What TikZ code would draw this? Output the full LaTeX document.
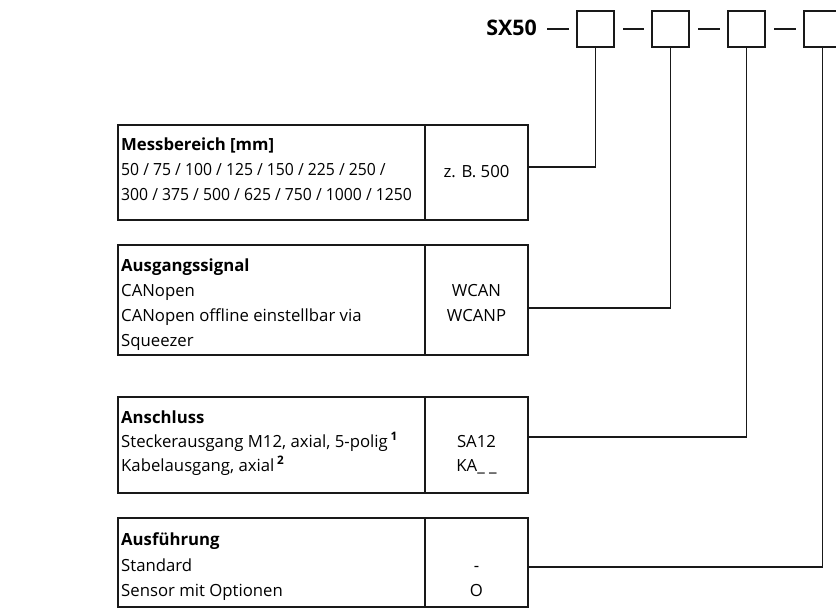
\documentclass[tikz,border=0pt]{standalone}
\usepackage{fontspec}
\setmainfont{Open Sans}
\newcommand{\digrow}[1]{\scalebox{0.94}[1]{#1}}
\begin{document}
\begin{tikzpicture}[x=1bp,y=-1bp,
  frame/.style={draw=black!90,line width=1.7bp,inner sep=0pt,outer sep=0pt,anchor=north west},
  sq/.style={draw=black!90,line width=1.5bp,minimum width=37bp,minimum height=36bp,inner sep=0pt,outer sep=0pt},
  link/.style={draw=black!90,line width=1.5bp},
  txt/.style={anchor=base west,inner sep=0pt,font=\fontsize{16.8}{19}\selectfont},
  code/.style={anchor=base,inner sep=0pt,font=\fontsize{16.8}{19}\selectfont},
  head/.style={txt,font=\fontsize{16.8}{19}\selectfont\bfseries}]
\useasboundingbox (0,0) rectangle (836,612);

% header
\node[anchor=base east,inner sep=0pt,font=\fontsize{21.5}{23}\selectfont\bfseries] (sx) at (537,36) {SX50};
\node[sq] (s1) at (595.5,29) {};
\node[sq] (s2) at (670.5,29) {};
\node[sq] (s3) at (746.5,29) {};
\node[sq] (s4) at (822.5,29) {};
\draw[link] ([xshift=10bp]sx.east |- s1.west) -- ([xshift=-8bp]s1.west);
\draw[link] ([xshift=9bp]s1.east) -- ([xshift=-8bp]s2.west);
\draw[link] ([xshift=9bp]s2.east) -- ([xshift=-8bp]s3.west);
\draw[link] ([xshift=9bp]s3.east) -- ([xshift=-8bp]s4.west);

% boxes
\node[frame,minimum width=307bp,minimum height=95bp] (b1) at (118,125) {};
\node[frame,minimum width=103bp,minimum height=95bp] (c1) at (425,125) {};
\node[frame,minimum width=307bp,minimum height=110bp] (b2) at (118,245) {};
\node[frame,minimum width=103bp,minimum height=110bp] (c2) at (425,245) {};
\node[frame,minimum width=307bp,minimum height=96bp] (b3) at (118,397) {};
\node[frame,minimum width=103bp,minimum height=96bp] (c3) at (425,397) {};
\node[frame,minimum width=307bp,minimum height=89bp] (b4) at (118,518) {};
\node[frame,minimum width=103bp,minimum height=89bp] (c4) at (425,518) {};

% texts box 1
\node[head] (t11) at (121,151) {Messbereich [mm]};
\node[txt] (t12) at (121,176) {\digrow{50 / 75 / 100 / 125 / 150 / 225 / 250 /}};
\node[txt] (t13) at (121,201) {\digrow{300 / 375 / 500 / 625 / 750 / 1000 / 1250}};
\node[code] (k11) at (476.5,178) {z. B. 500};
% box 2
\node[head] (t21) at (121,271) {Ausgangssignal};
\node[txt] (t22) at (121,296) {CANopen};
\node[txt] (t23) at (121,321) {CANopen offline einstellbar via};
\node[txt] (t24) at (121,346) {Squeezer};
\node[code] (k21) at (476.5,296) {WCAN};
\node[code] (k22) at (476.5,321) {WCANP};
% box 3
\node[head] (t31) at (121,423) {Anschluss};
\node[txt] (t32) at (121,447) {Steckerausgang M12, axial, 5-polig\,\textsuperscript{\bfseries 1}};
\node[txt] (t33) at (121,471) {Kabelausgang, axial\,\textsuperscript{\bfseries 2}};
\node[code] (k31) at (476.5,447) {SA12};
\node[code] (k32) at (476.5,471) {KA\_ \_};
% box 4
\node[head] (t41) at (121,545) {Ausführung};
\node[txt] (t42) at (121,571) {Standard};
\node[txt] (t43) at (121,596) {Sensor mit Optionen};
\node[code] (k41) at (476.5,571) {-};
\node[code] (k42) at (476.5,596) {O};

% connectors
\coordinate (e1) at (528,167);
\coordinate (e2) at (528,308);
\coordinate (e3) at (528,437);
\coordinate (e4) at (528,567);
\draw[link] (s1.south) |- (e1);
\draw[link] (s2.south) |- (e2);
\draw[link] (s3.south) |- (e3);
\draw[link] (s4.south) |- (e4);
\end{tikzpicture}
\end{document}
